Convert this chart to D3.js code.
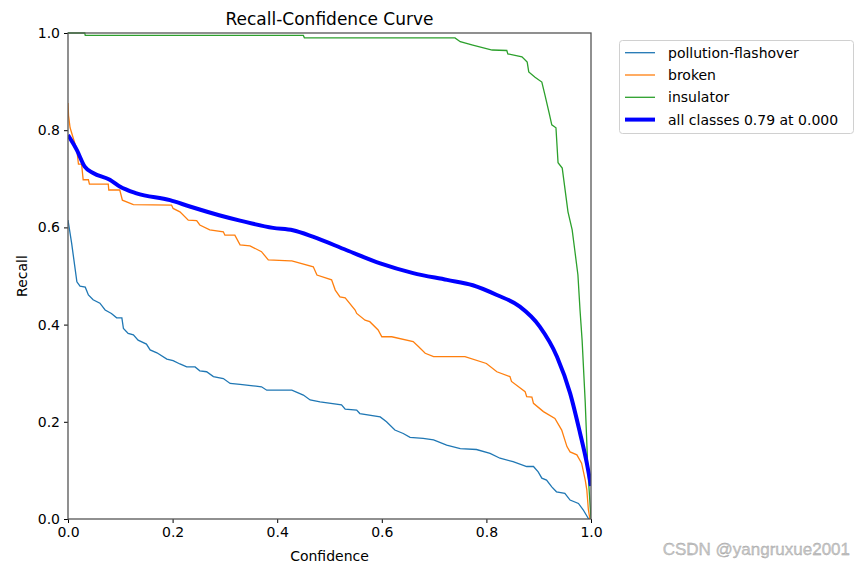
<!DOCTYPE html>
<html>
<head>
<meta charset="utf-8">
<script src="https://cdn.jsdelivr.net/npm/d3@7"></script>
<style>
  body { margin: 0; background: #fff; }
  svg { font-family: "DejaVu Sans", sans-serif; }
</style>
</head>
<body>
<svg id="chart"></svg>
<script>
// values: [confidence, recall]
const classNames = ["pollution-flashover", "broken", "insulator"];
const classColors = ["#1f77b4", "#ff7f0e", "#2ca02c"];

const pollution = [
  [0.000, 0.615], [0.007, 0.567], [0.017, 0.488], [0.023, 0.479], [0.033, 0.477],
  [0.039, 0.461], [0.048, 0.451], [0.061, 0.444], [0.071, 0.430], [0.083, 0.423],
  [0.093, 0.414], [0.103, 0.414], [0.106, 0.392], [0.115, 0.382], [0.125, 0.379],
  [0.134, 0.368], [0.150, 0.360], [0.157, 0.348], [0.170, 0.342], [0.189, 0.329],
  [0.201, 0.326], [0.214, 0.319], [0.227, 0.313], [0.243, 0.313], [0.252, 0.305],
  [0.265, 0.303], [0.278, 0.293], [0.297, 0.289], [0.310, 0.279], [0.329, 0.277],
  [0.354, 0.274], [0.370, 0.272], [0.380, 0.265], [0.428, 0.265], [0.450, 0.255],
  [0.463, 0.245], [0.482, 0.241], [0.523, 0.235], [0.530, 0.226], [0.552, 0.224],
  [0.558, 0.217], [0.597, 0.210], [0.609, 0.200], [0.625, 0.183], [0.641, 0.176],
  [0.654, 0.168], [0.679, 0.166], [0.699, 0.163], [0.724, 0.152], [0.750, 0.145],
  [0.781, 0.143], [0.807, 0.135], [0.826, 0.125], [0.851, 0.118], [0.877, 0.108],
  [0.890, 0.108], [0.899, 0.097], [0.906, 0.084], [0.915, 0.080], [0.925, 0.066],
  [0.934, 0.056], [0.950, 0.053], [0.960, 0.039], [0.976, 0.032], [0.985, 0.019],
  [0.995, 0.001], [1.000, 0.000]
];

const broken = [
  [0.000, 0.856], [0.001, 0.830], [0.004, 0.805], [0.017, 0.759], [0.020, 0.730],
  [0.026, 0.730], [0.029, 0.698], [0.039, 0.698], [0.041, 0.689], [0.077, 0.689],
  [0.078, 0.677], [0.099, 0.677], [0.104, 0.656], [0.125, 0.647], [0.198, 0.646],
  [0.201, 0.639], [0.214, 0.632], [0.230, 0.615], [0.246, 0.614], [0.252, 0.605],
  [0.271, 0.595], [0.297, 0.591], [0.300, 0.584], [0.319, 0.584], [0.329, 0.564],
  [0.348, 0.562], [0.370, 0.550], [0.383, 0.533], [0.425, 0.531], [0.428, 0.531],
  [0.469, 0.519], [0.476, 0.502], [0.504, 0.492], [0.511, 0.471], [0.520, 0.457],
  [0.530, 0.455], [0.549, 0.430], [0.552, 0.423], [0.568, 0.409], [0.577, 0.406],
  [0.593, 0.389], [0.600, 0.375], [0.619, 0.375], [0.660, 0.365], [0.670, 0.355],
  [0.683, 0.341], [0.699, 0.334], [0.759, 0.334], [0.800, 0.320], [0.820, 0.303],
  [0.845, 0.293], [0.848, 0.283], [0.874, 0.262], [0.877, 0.252], [0.887, 0.251],
  [0.890, 0.238], [0.909, 0.221], [0.931, 0.207], [0.944, 0.183], [0.954, 0.149],
  [0.960, 0.138], [0.973, 0.132], [0.982, 0.115], [0.989, 0.080], [0.992, 0.060],
  [0.995, 0.019], [0.998, 0.000]
];

const insulator = [
  [0.000, 1.000], [0.032, 1.000], [0.033, 0.995], [0.450, 0.995], [0.452, 0.990],
  [0.740, 0.990], [0.750, 0.982], [0.774, 0.975], [0.811, 0.965], [0.839, 0.964],
  [0.841, 0.957], [0.868, 0.951], [0.878, 0.940], [0.881, 0.920], [0.893, 0.909],
  [0.906, 0.899], [0.912, 0.872], [0.920, 0.835], [0.925, 0.811], [0.933, 0.805],
  [0.937, 0.733], [0.945, 0.722], [0.956, 0.632], [0.964, 0.595], [0.969, 0.553],
  [0.975, 0.502], [0.979, 0.430], [0.983, 0.368], [0.989, 0.239], [0.994, 0.101],
  [0.998, 0.033], [1.000, 0.000]
];

const allClasses = [
  [0.000, 0.790], [0.017, 0.759], [0.032, 0.725], [0.048, 0.712],
  [0.080, 0.698], [0.099, 0.684], [0.131, 0.670], [0.195, 0.656], [0.233, 0.643],
  [0.289, 0.625], [0.329, 0.614], [0.392, 0.599], [0.430, 0.594],
  [0.468, 0.581], [0.533, 0.553], [0.597, 0.526], [0.660, 0.506], [0.725, 0.492],
  [0.774, 0.481], [0.820, 0.461], [0.864, 0.437], [0.902, 0.396], [0.935, 0.334],
  [0.960, 0.259], [0.979, 0.177], [0.992, 0.115], [1.000, 0.068]
];
const allLabel = "all classes 0.79 at 0.000";

const xTicks = [0.0, 0.2, 0.4, 0.6, 0.8, 1.0];
const yTicks = [0.0, 0.2, 0.4, 0.6, 0.8, 1.0];

const W = 865, H = 568;
const m = { left: 68, right: 591, top: 33, bottom: 519 };

const svg = d3.select("#chart").attr("width", W).attr("height", H);

const x = d3.scaleLinear().domain([0, 1]).range([m.left, m.right]);
const y = d3.scaleLinear().domain([0, 1]).range([m.bottom, m.top]);

const line = d3.line().x(d => x(d[0])).y(d => y(d[1]));
const smooth = d3.line().curve(d3.curveMonotoneX).x(d => x(d[0])).y(d => y(d[1]));

// clip to plot area
svg.append("clipPath").attr("id", "clip")
   .append("rect")
   .attr("x", m.left).attr("y", m.top - 2)
   .attr("width", m.right - m.left).attr("height", m.bottom - m.top + 2);

const plot = svg.append("g").attr("clip-path", "url(#clip)");

[pollution, broken, insulator].forEach((series, i) => {
  plot.append("path")
      .datum(series)
      .attr("fill", "none")
      .attr("stroke", classColors[i])
      .attr("stroke-width", 1.3)
      .attr("d", line);
});

plot.append("path")
    .datum(allClasses)
    .attr("fill", "none")
    .attr("stroke", "#0000ff")
    .attr("stroke-width", 4)
    .attr("stroke-linejoin", "round")
    .attr("d", smooth);

// axes
const xAxis = d3.axisBottom(x).tickValues(xTicks).tickFormat(d3.format(".1f")).tickSize(4).tickPadding(4);
const yAxis = d3.axisLeft(y).tickValues(yTicks).tickFormat(d3.format(".1f")).tickSize(4).tickPadding(4);

const gx = svg.append("g").attr("transform", `translate(0,${m.bottom})`).call(xAxis);
const gy = svg.append("g").attr("transform", `translate(${m.left},0)`).call(yAxis);
[gx, gy].forEach(g => {
  g.select(".domain").remove();
  g.selectAll("text").attr("font-size", 14).attr("font-family", "DejaVu Sans").attr("fill", "#000");
  g.selectAll("line").attr("stroke", "#000");
});

// frame
svg.append("rect")
   .attr("x", m.left).attr("y", m.top)
   .attr("width", m.right - m.left).attr("height", m.bottom - m.top)
   .attr("fill", "none").attr("stroke", "#555").attr("stroke-width", 1.3);

// titles
svg.append("text").attr("x", (m.left + m.right) / 2).attr("y", 25)
   .attr("text-anchor", "middle").attr("font-size", 17).text("Recall-Confidence Curve");
svg.append("text").attr("x", (m.left + m.right) / 2).attr("y", 561)
   .attr("text-anchor", "middle").attr("font-size", 14).text("Confidence");
svg.append("text").attr("transform", `translate(27,${(m.top + m.bottom) / 2}) rotate(-90)`)
   .attr("text-anchor", "middle").attr("font-size", 14).text("Recall");

// legend
const legend = svg.append("g");
legend.append("rect").attr("x", 619.5).attr("y", 40.5).attr("width", 234).attr("height", 93)
      .attr("rx", 3).attr("fill", "#fff").attr("stroke", "#d0d0d0");
const legendItems = classNames.map((n, i) => ({ name: n, color: classColors[i], w: 1.3 }))
  .concat([{ name: allLabel, color: "#0000ff", w: 4 }]);
legendItems.forEach((d, i) => {
  const ly = 52.7 + i * 22.3;
  legend.append("line").attr("x1", 625).attr("x2", 655).attr("y1", ly).attr("y2", ly)
        .attr("stroke", d.color).attr("stroke-width", d.w);
  legend.append("text").attr("x", 668).attr("y", ly).attr("dy", "0.35em")
        .attr("font-size", 14).text(d.name);
});

// watermark
svg.append("text").attr("x", 850).attr("y", 555).attr("text-anchor", "end")
   .attr("font-family", "Liberation Sans Narrow, Liberation Sans, sans-serif")
   .attr("font-size", 17).attr("fill", "#c8c8c8").attr("stroke", "#999").attr("stroke-width", 0.3)
   .text("CSDN @yangruxue2001");
</script>
</body>
</html>
